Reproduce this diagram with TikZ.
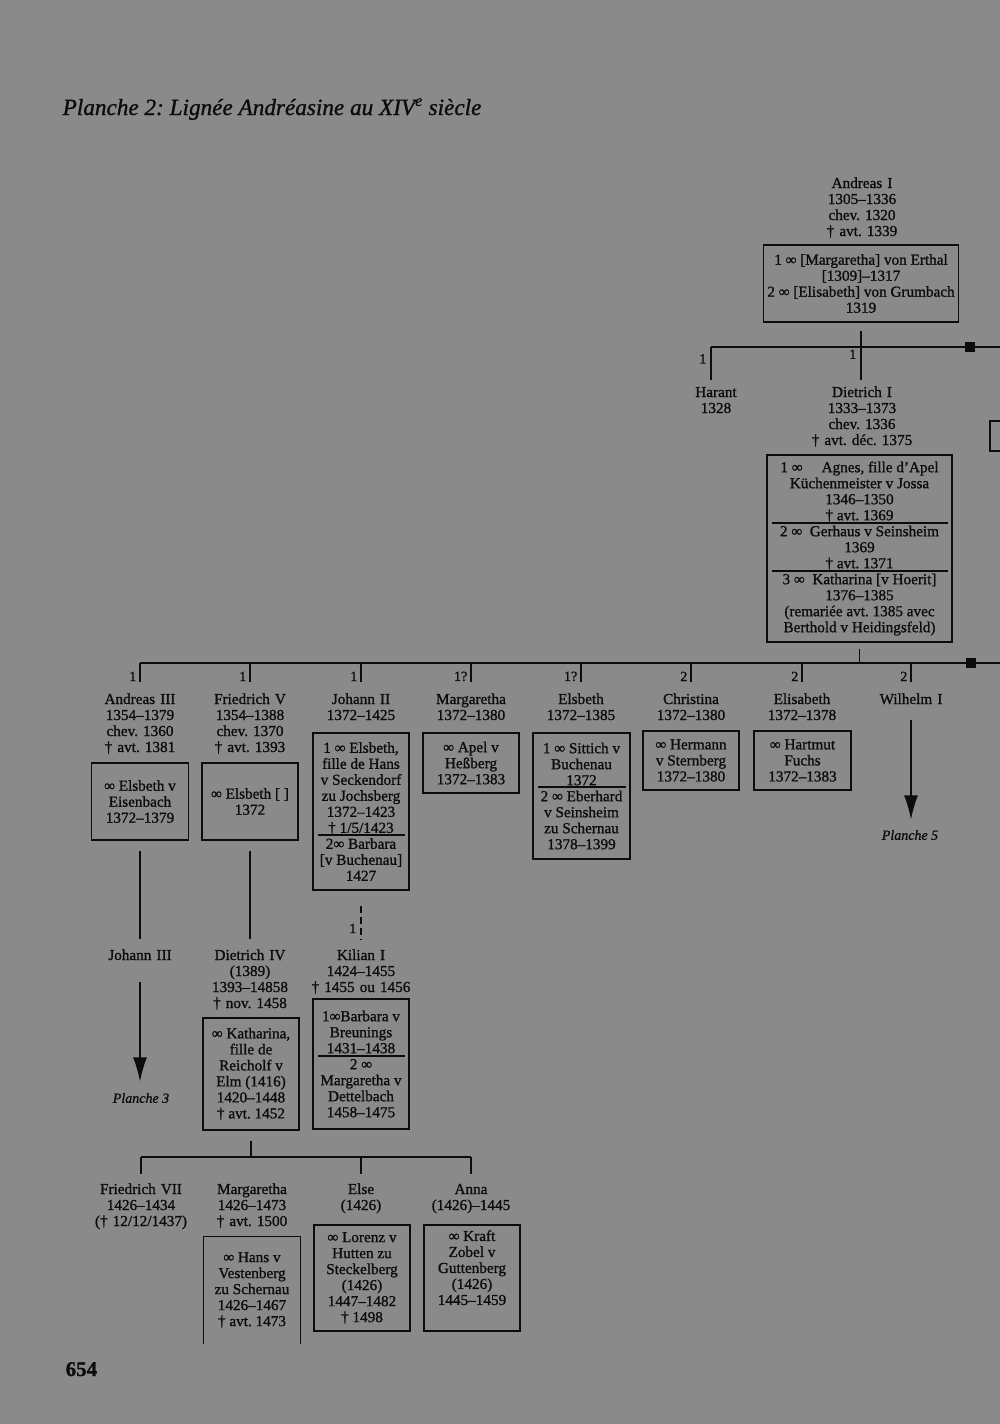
\documentclass[tikz,border=0pt]{standalone}
\usepackage{fontspec}
\setmainfont{Liberation Serif}[Ligatures=TeX, FakeBold=1.1]
\usepackage{xcolor}
\usetikzlibrary{arrows.meta, positioning}

\definecolor{papier}{HTML}{8A8A8A}
\definecolor{encre}{HTML}{0C0C0C}

\tikzset{
  nom/.style={text width=150pt, align=center, anchor=base, inner sep=0pt,
    font=\fontsize{15.2}{16}\selectfont},
  boite/.style={draw, align=center, inner sep=0pt, minimum width=96pt,
    font=\fontsize{15.2}{16}\selectfont},
  rang/.style={font=\fontsize{14}{15}\selectfont, inner sep=1pt},
  renvoi/.style={font=\fontsize{14}{15}\selectfont\itshape, inner sep=0pt},
  carre/.style={fill, minimum size=10pt, inner sep=0pt},
  fleche/.style={-{Latex[length=24pt,width=14pt]}}
}

\begin{document}
\frenchspacing
\begin{tikzpicture}[x=1pt, y=-1pt, line width=1.4pt, color=encre]
    % nền trang
    \fill[papier] (0,0) rectangle (1000,1424);
    \clip (0,0) rectangle (1000,1424);

    % tiêu đề, số trang
    \node[anchor=base west, inner sep=0pt, font=\fontsize{23.2}{26}\selectfont\itshape]
        (titre) at (62,115) {Planche 2: Lignée Andréasine au XIV\textsuperscript{e} siècle};
    \node[anchor=base west, inner sep=0pt, font=\fontsize{21}{24}\selectfont\bfseries]
        (page) at (65,1376) {654};

    % Andreas I
    \node[nom] (an) at (862,188) {Andreas I\\1305--1336\\chev. 1320\\† avt. 1339};
    \node[boite, minimum width=195pt, minimum height=77pt] (anb) at (861,283.5)
        {1 ∞ [Margaretha] von Erthal\\{}[1309]--1317\\2 ∞ [Elisabeth] von Grumbach\\1319};

    \coordinate (b1g) at (711,347);
    \coordinate (b1d) at (1000,347);
    \draw (b1g) -- (b1d);
    \node[carre] (sq1) at (970,347) {};
    \node[boite, minimum width=40pt, minimum height=30pt] (xb) at (1010,436) {};

    \node[nom] (ha) at (716,397) {Harant\\1328};
    \node[nom] (di) at (862,397) {Dietrich I\\1333--1373\\chev. 1336\\† avt. déc. 1375};
    \draw[shorten >=6pt] (b1g) -- (b1g |- ha.north) node[rang, pos=0.3, left=3pt] {1};
    \draw[shorten <=8pt, shorten >=6pt] (anb.south) -- (anb.south |- di.north)
        node[rang, pos=0.5, left=3pt] {1};

    % Dietrich I
    \node[boite, minimum width=185pt, minimum height=187pt] (dib) at (859.5,548.5)
        {1 ∞ \quad Agnes, fille d'Apel\\Küchenmeister v Jossa\\1346--1350\\† avt. 1369\\
         2 ∞ \ Gerhaus v Seinsheim\\1369\\† avt. 1371\\
         3 ∞ \ Katharina [v Hoerit]\\1376--1385\\(remariée avt. 1385 avec\\Berthold v Heidingsfeld)};
    \draw (772,523) -- (948,523);
    \draw (772,571) -- (948,571);

    \coordinate (b2g) at (140,663);
    \coordinate (b2d) at (1000,663);
    \draw (b2g) -- (b2d);
    \draw[shorten <=6pt] (dib.south) -- (dib.south |- b2g);
    \node[carre] (sq2) at (971,663) {};

    % con của Dietrich I
    \node[nom] (a3) at (140,704) {Andreas III\\1354--1379\\chev. 1360\\† avt. 1381};
    \node[nom] (f5) at (250,704) {Friedrich V\\1354--1388\\chev. 1370\\† avt. 1393};
    \node[nom] (j2) at (361,704) {Johann II\\1372--1425};
    \node[nom] (m1) at (471,704) {Margaretha\\1372--1380};
    \node[nom] (eb) at (581,704) {Elsbeth\\1372--1385};
    \node[nom] (ch) at (691,704) {Christina\\1372--1380};
    \node[nom] (el) at (802,704) {Elisabeth\\1372--1378};
    \node[nom] (w1) at (911,704) {Wilhelm I};

    \foreach \n/\r in {a3/1, f5/1, j2/1, m1/1?, eb/1?, ch/2, el/2, w1/2}
        \draw[shorten >=11pt] (\n.north |- b2g) -- (\n.north) node[rang, pos=0.45, left=2pt] {\r};

    \node[boite, minimum width=97pt, minimum height=77pt] (a3b) at (140,801.5)
        {∞ Elsbeth v\\Eisenbach\\1372--1379};
    \node[boite, minimum height=77pt] (f5b) at (250,801.5) {∞ Elsbeth [ ]\\1372};
    \node[boite, minimum height=157pt] (j2b) at (361,811.5)
        {1 ∞ Elsbeth,\\fille de Hans\\v Seckendorf\\zu Jochsberg\\1372--1423\\† 1/5/1423\\
         2∞ Barbara\\{}[v Buchenau]\\1427};
    \draw (318,835) -- (405,835);
    \node[boite, minimum height=60pt] (m1b) at (471,763) {∞ Apel v\\Heßberg\\1372--1383};
    \node[boite, minimum width=97pt, minimum height=126pt] (ebb) at (581.5,796)
        {1 ∞ Sittich v\\Buchenau\\1372\\2 ∞ Eberhard\\v Seinsheim\\zu Schernau\\1378--1399};
    \draw (538,787) -- (626,787);
    \node[boite, minimum height=59pt] (chb) at (691,760.5) {∞ Hermann\\v Sternberg\\1372--1380};
    \node[boite, minimum width=97pt, minimum height=59pt] (elb) at (802.5,760.5)
        {∞ Hartmut\\Fuchs\\1372--1383};

    \node[renvoi] (p5) at (910,835) {Planche 5};
    \draw[fleche, shorten <=15pt, shorten >=10pt] (w1.south) -- (w1.south |- p5.north);

    % thế hệ kế tiếp
    \node[nom] (jo3) at (140,960) {Johann III};
    \node[nom] (d4) at (250,960) {Dietrich IV\\(1389)\\1393--14858\\† nov. 1458};
    \node[nom] (k1) at (361,960) {Kilian I\\1424--1455\\† 1455 ou 1456};
    \node[renvoi] (p3) at (141,1098) {Planche 3};

    \draw[shorten <=10pt, shorten >=10pt] (a3b.south) -- (a3b.south |- jo3.north);
    \draw[shorten <=10pt, shorten >=10pt] (f5b.south) -- (f5b.south |- d4.north);
    \draw[dash pattern=on 7pt off 4pt, shorten <=15pt, shorten >=10pt] (j2b.south) -- (j2b.south |- k1.north)
        node[rang, pos=0.65, left=3pt] {1};
    \draw[fleche, shorten <=21pt, shorten >=11pt] (jo3.south) -- (jo3.south |- p3.north);

    \node[boite, minimum height=112pt] (d4b) at (251,1074)
        {∞ Katharina,\\fille de\\Reicholf v\\Elm (1416)\\1420--1448\\† avt. 1452};
    \node[boite, minimum height=130pt] (k1b) at (361,1064)
        {1∞Barbara v\\Breunings\\1431--1438\\2 ∞\\Margaretha v\\Dettelbach\\1458--1475};
    \draw (318,1056) -- (405,1056);

    % con của Dietrich IV
    \coordinate (b3g) at (141,1157);
    \coordinate (b3d) at (471,1157);
    \draw (b3g) -- (b3d);
    \draw[shorten <=10pt] (d4b.south) -- (d4b.south |- b3g);

    \node[nom] (f7) at (141,1194) {Friedrich VII\\1426--1434\\(† 12/12/1437)};
    \node[nom] (mg) at (252,1194) {Margaretha\\1426--1473\\† avt. 1500};
    \node[nom] (es) at (361,1194) {Else\\(1426)};
    \node[nom] (an2) at (471,1194) {Anna\\(1426)--1445};
    \foreach \n in {f7, es, an2}
        \draw[shorten >=9pt] (\n.north |- b3g) -- (\n.north);

    \node[boite, draw=none, minimum height=106pt] (mgb) at (252,1290)
        {∞ Hans v\\Vestenberg\\zu Schernau\\1426--1467\\† avt. 1473};
    \draw (mgb.south west) -- (mgb.north west) -- (mgb.north east) -- (mgb.south east);
    \node[boite, minimum height=106pt] (esb) at (362,1278)
        {∞ Lorenz v\\Hutten zu\\Steckelberg\\(1426)\\1447--1482\\† 1498};
    \node[boite, minimum height=106pt] (anb2) at (472,1278)
        {∞ Kraft\\Zobel v\\Guttenberg\\(1426)\\1445--1459\\\strut};
\end{tikzpicture}
\end{document}
